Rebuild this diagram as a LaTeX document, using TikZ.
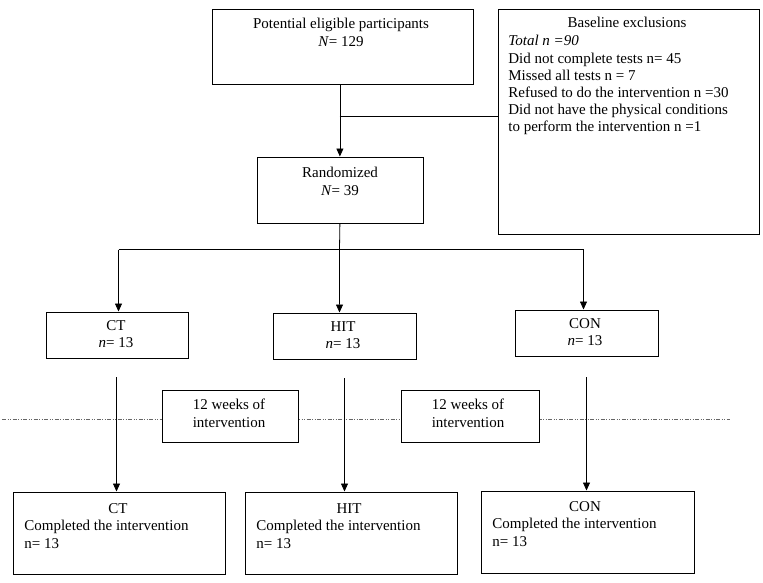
\documentclass[tikz,border=0pt]{standalone}
\usepackage{fontspec}
\setmainfont{Liberation Serif}
\usetikzlibrary{arrows.meta}

\tikzset{
  box/.style={draw, fill=white, inner sep=0pt, anchor=north west},
  txt/.style={inner sep=0pt, anchor=north, align=center},
  txtl/.style={inner sep=0pt, anchor=north west, align=left},
  cut/.style={line width=0.6pt, black!60,
    dash pattern=on 4pt off 1.5pt on 1pt off 1.5pt on 1pt off 1.5pt},
}

\begin{document}
\begin{tikzpicture}[x=1pt, y=-1pt, line width=0.8pt,
  >={Triangle[length=8pt,width=7pt]},
  font=\fontsize{15}{17.2}\selectfont]

  \useasboundingbox (0,0) rectangle (763,582); %% page size

  \coordinate (cutl) at (2,419.5);
  \coordinate (cutr) at (730,419.5);
  \draw[cut] (cutl) -- (cutr);

  % boxes
  \node[box, minimum width=261pt, minimum height=75pt]  (pot)  at (211.5,8.5) {};
  \node[box, minimum width=261pt, minimum height=225pt] (excl) at (497.5,8.5) {};
  \node[box, minimum width=166pt, minimum height=66pt]  (rand) at (256.5,156.5) {};

  \node[box, minimum width=142pt, minimum height=46pt] (ct)  at (45.5,311.5) {};
  \node[box, minimum width=143pt, minimum height=46pt] (hit) at (272.5,312.5) {};
  \node[box, minimum width=143pt, minimum height=46pt] (con) at (514.5,309.5) {};

  \node[box, minimum width=136pt, minimum height=52pt] (wk1) at (161.5,389.5) {};
  \node[box, minimum width=138pt, minimum height=52pt] (wk2) at (400.5,389.5) {};

  \node[box, minimum width=212pt, minimum height=82pt] (ctend)  at (12.5,491.5) {};
  \node[box, minimum width=212pt, minimum height=82pt] (hitend) at (244.5,491.5) {};
  \node[box, minimum width=213pt, minimum height=82pt] (conend) at (480.5,490.5) {};

  % texts (north = baseline - 10)
  \node[txt] (pottxt) at (341,18) {Potential eligible participants\\\textit{N}= 129};
  \node[txt] (exhead) at (627,17) {Baseline exclusions};
  \node[txtl] (exbody) at (508,35) {\textit{Total n =90}\\
    Did not complete tests n= 45\\
    Missed all tests n = 7\\
    Refused to do the intervention n =30\\
    Did not have the physical conditions\\
    to perform the intervention n =1};
  \node[txt] (randtxt) at (340,167) {Randomized\\\textit{N}= 39};

  \node[txt] (cttxt)  at (116,320) {CT\\\textit{n}= 13};
  \node[txt] (hittxt) at (343,321) {HIT\\\textit{n}= 13};
  \node[txt] (contxt) at (585,318) {CON\\\textit{n}= 13};

  \node[txt] (wk1txt) at (229,399) {12 weeks of\\intervention};
  \node[txt] (wk2txt) at (468,399) {12 weeks of\\intervention};

  \node[txt]  (ctendhd)   at (118,503) {CT};
  \node[txtl] (ctendtxt)  at (24,520)  {Completed the intervention\\n= 13};
  \node[txt]  (hitendhd)  at (349,503) {HIT};
  \node[txtl] (hitendtxt) at (256,520) {Completed the intervention\\n= 13};
  \node[txt]  (conendhd)  at (585,501) {CON};
  \node[txtl] (conendtxt) at (492,518) {Completed the intervention\\n= 13};

  % connectors
  \coordinate (fork1) at (339.5,116.5);
  \draw[->] (rand.north |- pot.south) -- (rand.north);
  \draw (fork1) -- (fork1 -| excl.west);

  \coordinate (fork2)  at (339.5,249.5);
  \coordinate (ctfork) at (118.5,249.5);
  \coordinate (cofork) at (583.5,249.5);
  \draw[->] (rand.south) -- (fork2) -- (fork2 |- hit.north);
  \draw (ctfork) -- (cofork);
  \draw[->] (ctfork) -- (ctfork |- ct.north);
  \draw[->] (cofork) -- (cofork |- con.north);

  \coordinate (ctgo)  at (116.5,377);
  \coordinate (hitgo) at (344.5,378);
  \coordinate (cogo)  at (586.5,377);
  \draw[->] (ctgo) -- (ctgo |- ctend.north);
  \draw[->] (hitgo) -- (hitgo |- hitend.north);
  \draw[->] (cogo) -- (cogo |- conend.north);

\end{tikzpicture}
\end{document}
